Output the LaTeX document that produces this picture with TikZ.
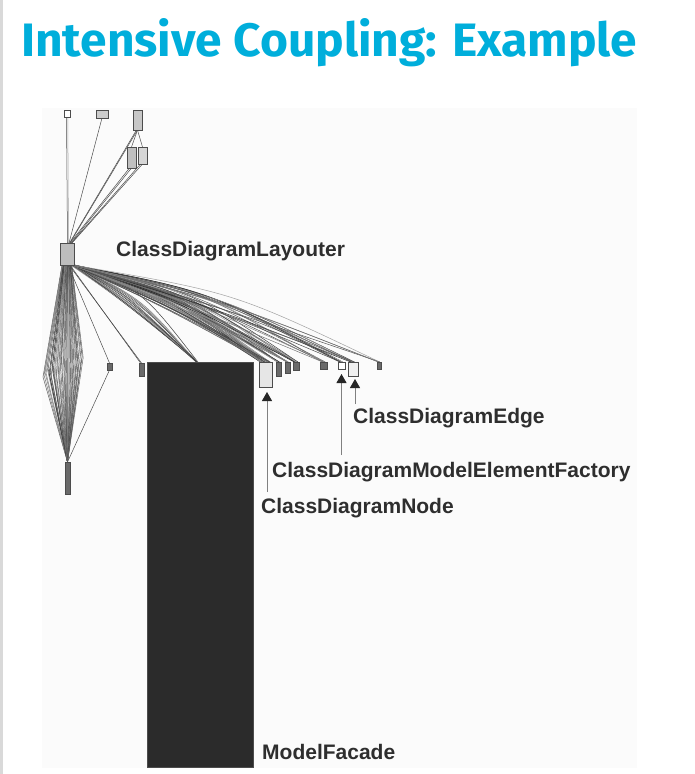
\documentclass[tikz,border=0pt]{standalone}
\usepackage{fontspec}
\setmainfont{Liberation Sans}
\newfontfamily\titlefont{Fira Sans}
\usetikzlibrary{arrows.meta}
\definecolor{titlecyan}{HTML}{00AEDB}
\definecolor{panelbg}{HTML}{FBFBFB}
\definecolor{labelgray}{HTML}{2E2E2E}
\definecolor{darkbox}{HTML}{6A6A6A}
\definecolor{midbox}{HTML}{BDBDBD}
\definecolor{lightbox}{HTML}{E6E6E6}
\definecolor{facade}{HTML}{2B2B2B}
\pgfdeclarelayer{back}
\pgfdeclarelayer{edges}
\pgfsetlayers{back,edges,main}
\begin{document}
\begin{tikzpicture}[x=1pt,y=-1pt,
  cls/.style={draw=black!70, line width=0.6pt, inner sep=0pt, outer sep=0pt, rectangle},
  edgeline/.style={line width=0.5pt, draw=black!70},
  arr/.style={draw=black!50, line width=0.9pt, -{Triangle[width=10pt,length=9pt,color=black!85]}},
  lbl/.style={font=\fontsize{21}{25}\selectfont\bfseries, text=labelgray, anchor=base west, inner sep=0pt}]
\pgfmathsetseed{11}
\useasboundingbox (0,0) rectangle (694,774);
\begin{pgfonlayer}{back}
\fill[white] (0,0) rectangle (694,774);
\fill[black!15] (0,0) rectangle (3,774);
\fill[panelbg] (42,108) rectangle (637,768);
\end{pgfonlayer}
% title
\node[anchor=base west, inner sep=0pt, text=titlecyan] (title) at (21,56)
  {\resizebox{616pt}{38pt}{\titlefont\bfseries Intensive Coupling: Example}};
% class boxes
\node[cls, fill=white, minimum width=6pt, minimum height=7pt] (t1) at (67,113.5) {};
\node[cls, fill=black!20, minimum width=12pt, minimum height=8pt] (t2) at (102,114) {};
\node[cls, fill=black!22, minimum width=9pt, minimum height=20pt] (t3) at (137.5,120) {};
\node[cls, fill=black!25, minimum width=9pt, minimum height=21pt] (t4) at (131.5,157.5) {};
\node[cls, fill=black!16, minimum width=9pt, minimum height=17pt] (t5) at (142.5,155.5) {};
\node[cls, fill=midbox, minimum width=14pt, minimum height=22pt] (lay) at (67,254) {};
\node[cls, fill=darkbox, minimum width=5pt, minimum height=7pt] (b1) at (109.5,366.5) {};
\node[cls, fill=darkbox, minimum width=5pt, minimum height=13pt] (b2) at (141.5,369.5) {};
\node[cls, fill=facade, minimum width=106pt, minimum height=405pt] (mf) at (200,564.5) {};
\node[cls, fill=lightbox, minimum width=13pt, minimum height=25pt] (cdn) at (265.5,374.5) {};
\node[cls, fill=darkbox, minimum width=5pt, minimum height=14pt] (s1) at (278.5,369) {};
\node[cls, fill=darkbox, minimum width=5pt, minimum height=11pt] (s2) at (287.5,367.5) {};
\node[cls, fill=darkbox, minimum width=6pt, minimum height=8pt] (s3) at (296,366) {};
\node[cls, fill=darkbox, minimum width=7pt, minimum height=7pt] (s4) at (323.5,365.5) {};
\node[cls, fill=white, minimum width=7pt, minimum height=7pt] (fac) at (341.5,365.5) {};
\node[cls, fill=black!6, minimum width=10pt, minimum height=14pt] (edge) at (353,369) {};
\node[cls, fill=darkbox, minimum width=4pt, minimum height=7pt] (s5) at (379,365.5) {};
\node[cls, fill=darkbox, minimum width=5pt, minimum height=32pt] (bot) at (67.5,478) {};
% edges
\begin{pgfonlayer}{edges}
\draw[edgeline] ([xshift=-0.5pt]t1.south) -- ([xshift=0.5pt]lay.north);
\draw[edgeline, draw=black!35] ([xshift=0.8pt]t1.south) -- ([xshift=1.5pt]lay.north);
\draw[edgeline] (t2.south) -- ([xshift=2pt]lay.north);
\draw[edgeline] (t3.south) -- (t4.north);
\draw[edgeline] (t3.south) -- (t5.north);
\draw[edgeline] (t3.south) -- ([xshift=3pt]lay.north);
\draw[edgeline] ([xshift=-1pt]t3.south) -- ([xshift=2.5pt]lay.north);
\draw[edgeline] (t4.south) -- ([xshift=4pt]lay.north);
\draw[edgeline] ([xshift=-2pt]t4.south) -- ([xshift=3pt]lay.north);
\draw[edgeline] (t5.south) -- ([xshift=5pt]lay.north);
\draw[edgeline] ([xshift=-2pt]t5.south) -- ([xshift=4.5pt]lay.north);
% left lens
\foreach \i in {0,...,39} {
  \pgfmathsetmacro\xm{43+\i*1.03}
  \pgfmathsetmacro\ym{373-\i*0.4+6*rand}
  \pgfmathsetmacro\sx{-5+\i*0.25}
  \pgfmathsetmacro\shade{int(62+25*rand)}
  \draw[edgeline, draw=black!\shade] ([xshift=\sx]lay.south) -- (\xm,\ym) -- (bot.north);
}
\draw[edgeline] ([xshift=1pt]lay.south) -- (b1.north);
\draw[edgeline] (b1.south) -- (bot.north);
\draw[edgeline] ([xshift=2pt]lay.south) -- (b2.north);
\draw[edgeline] ([xshift=3pt]lay.south) -- ([xshift=-1pt]b2.north);
% upper fan
\foreach \tgt/\tx/\n/\spread/\off in {mf/197/18/1/-3, cdn/265/32/5/0, s1/278/9/1/0, s2/287/9/1/0, s3/296/9/2/0, s4/323/6/2/0, fac/341/5/2/0, edge/353/7/3/0, s5/379/4/1/0} {
  \foreach \k in {1,...,\n} {
    \pgfmathsetmacro\shade{int(62+25*rand)}
    \pgfmathsetmacro\cx{74+0.5*(\tx-74)+10*rand}
    \pgfmathsetmacro\cy{300+10*rand}
    \pgfmathsetmacro\sx{-1.5+2*rand}
    \pgfmathsetmacro\ex{\off+\spread*rand}
    \draw[edgeline, draw=black!\shade] ([xshift=\sx]lay.south east) .. controls (\cx,\cy) .. ([xshift=\ex]\tgt.north);
  }
}
\end{pgfonlayer}
% labels
\node[lbl] (layL) at (116,256) {ClassDiagramLayouter};
\node[lbl] (edgeL) at (353,423) {ClassDiagramEdge};
\node[lbl] (facL) at (272,477) {ClassDiagramModelElementFactory};
\node[lbl] (cdnL) at (261,513) {ClassDiagramNode};
\node[lbl] (mfL) at (262,759) {ModelFacade};
% pointer arrows
\coordinate (cdnA) at (267,492);
\coordinate (facA) at (341.5,455);
\coordinate (edgeA) at (355,404);
\draw[arr, shorten >=5pt] (cdnA) -- (cdnA |- cdn.south);
\draw[arr, shorten >=5pt] (facA) -- (facA |- fac.south);
\draw[arr, shorten >=3pt] (edgeA) -- (edgeA |- edge.south);
\end{tikzpicture}
\end{document}
